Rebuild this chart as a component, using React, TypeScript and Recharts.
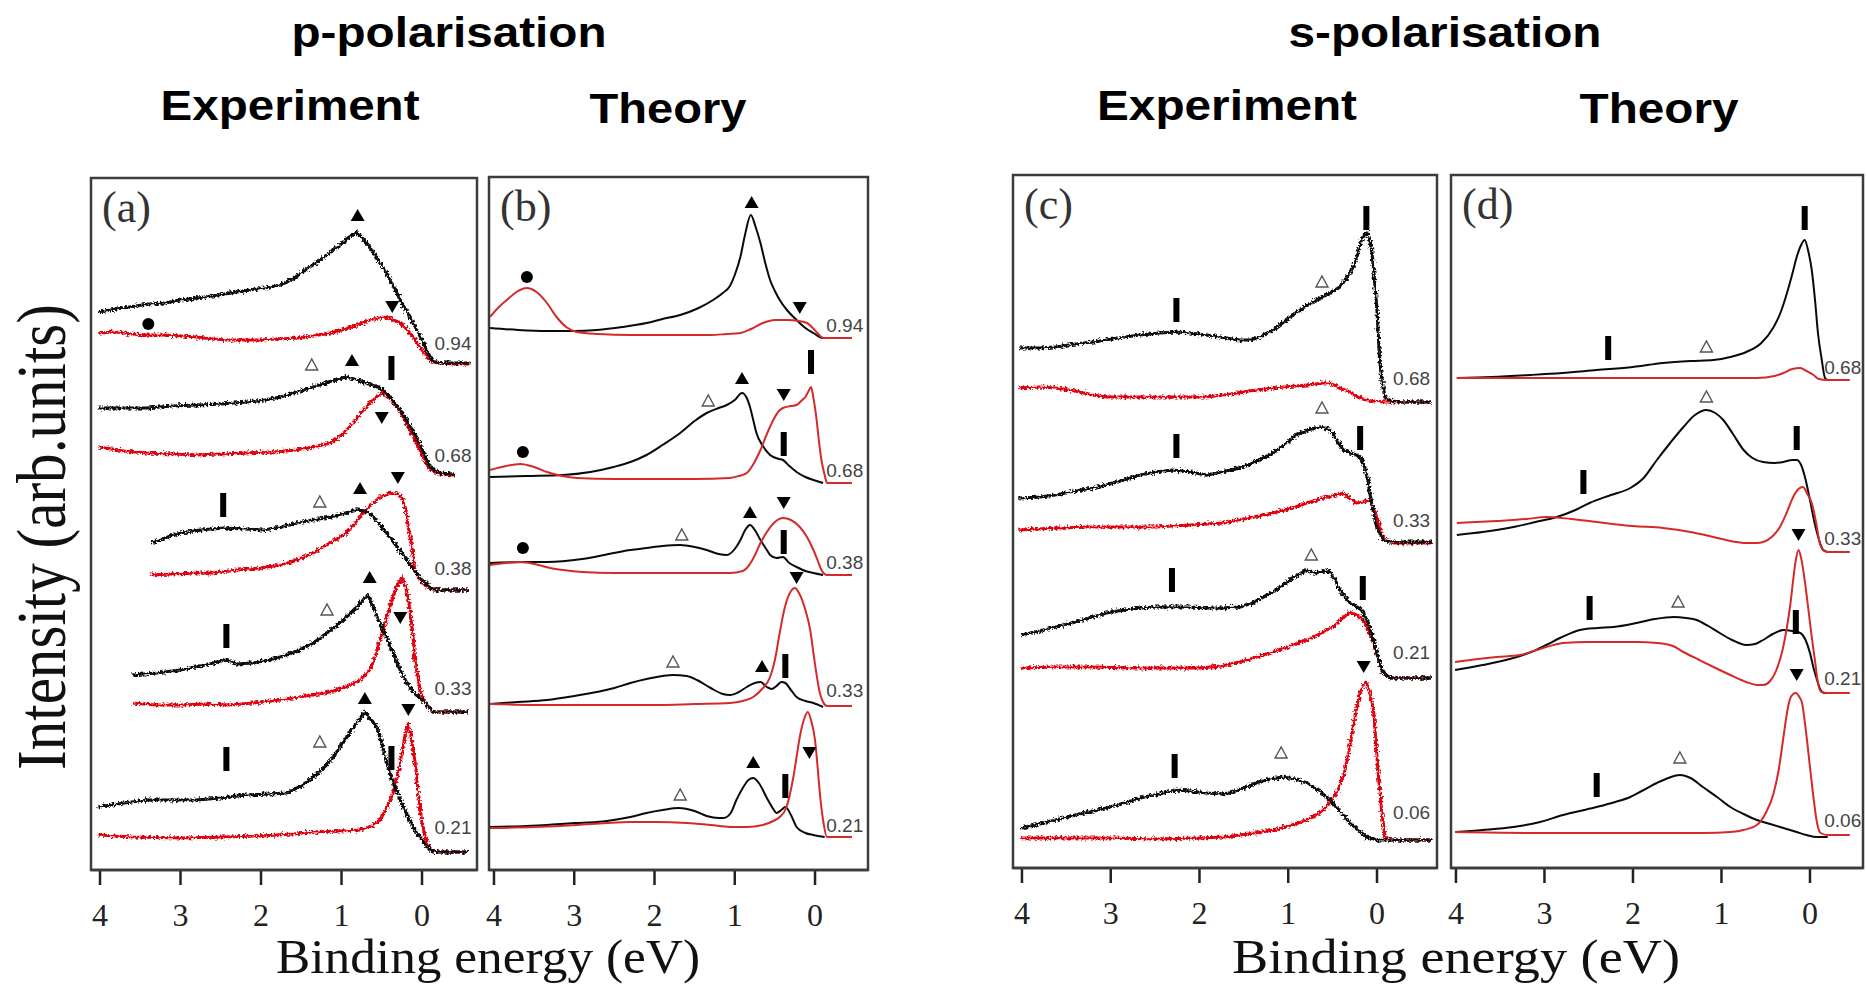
import React from 'react';
import { ComposedChart, Line, Scatter, XAxis, YAxis } from 'recharts';

type Pt = [number, number];

// Binding energy (eV), stacked intensity (arb. units, vertical offsets included)

// ---------- (a) p-polarisation, experiment ----------
const aBlack094: Pt[] = [[4.02,558],[3.8,561],[3.63,563],[3.4,566],[3.2,567],[3.0,570],[2.8,572],[2.6,574],[2.38,577],[2.15,580],[1.95,582],[1.76,585],[1.6,591],[1.45,600],[1.3,608],[1.15,617],[1.02,625],[0.92,632],[0.81,638],[0.73,631],[0.65,623],[0.55,611],[0.44,597],[0.35,583],[0.27,570],[0.18,557],[0.11,547],[0.0,530],[-0.1,513],[-0.15,508],[-0.3,507],[-0.6,507]];
const aRed094: Pt[] = [[4.02,537],[3.8,538],[3.6,536],[3.42,535],[3.2,535],[3.0,534],[2.8,533],[2.6,531],[2.4,530],[2.18,530],[2.0,530],[1.8,531],[1.56,532],[1.35,534],[1.14,537],[0.95,541],[0.8,545],[0.65,550],[0.48,553],[0.38,551],[0.27,547],[0.18,540],[0.11,533],[0.0,520],[-0.1,510],[-0.2,507],[-0.4,506],[-0.6,506]];
const aBlack068: Pt[] = [[4.02,462],[3.7,462],[3.42,462],[3.1,464],[2.8,465],[2.5,466],[2.18,468],[1.95,470],[1.76,473],[1.55,478],[1.35,483],[1.15,488],[0.94,493],[0.8,490],[0.69,487],[0.58,484],[0.48,480],[0.38,471],[0.27,460],[0.17,447],[0.07,433],[-0.02,417],[-0.1,403],[-0.22,397],[-0.41,396]];
const aRed068: Pt[] = [[4.02,423],[3.7,419],[3.42,417],[3.1,416],[2.8,415],[2.5,416],[2.18,417],[1.85,418],[1.56,420],[1.35,423],[1.14,427],[1.0,435],[0.85,447],[0.75,458],[0.65,467],[0.55,474],[0.48,477],[0.4,472],[0.3,462],[0.2,448],[0.07,427],[-0.02,412],[-0.1,400],[-0.2,396],[-0.41,395]];
const aBlack038: Pt[] = [[3.36,327],[3.2,332],[3.0,337],[2.75,340],[2.47,342],[2.2,341],[1.97,340],[1.75,343],[1.56,347],[1.35,350],[1.14,353],[0.95,357],[0.81,360],[0.72,359],[0.65,357],[0.52,345],[0.4,333],[0.3,322],[0.19,310],[0.1,300],[0.0,290],[-0.14,280],[-0.3,280],[-0.57,280]];
const aRed038: Pt[] = [[3.38,295],[3.1,296],[2.8,297],[2.6,297],[2.3,300],[2.0,302],[1.76,305],[1.55,310],[1.35,317],[1.14,327],[0.94,337],[0.83,347],[0.73,357],[0.62,366],[0.52,373],[0.4,377],[0.3,376],[0.25,373],[0.2,360],[0.17,343],[0.12,320],[0.09,300],[0.02,290],[-0.06,283],[-0.2,280],[-0.57,280]];
const aBlack033: Pt[] = [[3.6,195],[3.3,197],[3.0,200],[2.7,205],[2.43,210],[2.3,206],[2.1,207],[1.9,210],[1.76,213],[1.55,219],[1.35,227],[1.2,236],[1.02,247],[0.9,256],[0.81,263],[0.72,271],[0.67,275],[0.6,262],[0.52,247],[0.44,232],[0.36,217],[0.27,200],[0.19,187],[0.1,177],[0.0,170],[-0.14,158],[-0.3,158],[-0.57,158]];
const aRed033: Pt[] = [[3.6,167],[3.3,165],[3.0,165],[2.7,166],[2.38,165],[2.1,167],[1.76,170],[1.45,174],[1.14,178],[0.95,183],[0.77,190],[0.65,200],[0.58,214],[0.52,230],[0.46,246],[0.4,263],[0.32,283],[0.25,293],[0.2,283],[0.15,260],[0.11,233],[0.09,210],[0.04,188],[0.0,173],[-0.07,163],[-0.14,158],[-0.3,158],[-0.57,158]];
const aBlack021: Pt[] = [[4.02,63],[3.7,67],[3.42,70],[3.1,70],[2.8,70],[2.5,72],[2.18,75],[1.9,76],[1.68,77],[1.5,84],[1.35,93],[1.2,104],[1.1,113],[1.0,125],[0.9,137],[0.8,148],[0.71,158],[0.63,150],[0.56,143],[0.5,127],[0.44,107],[0.36,88],[0.27,70],[0.19,56],[0.11,43],[0.0,30],[-0.1,20],[-0.2,18],[-0.57,18]];
const aRed021: Pt[] = [[4.02,35],[3.6,33],[3.0,32],[2.5,33],[2.0,34],[1.6,36],[1.35,38],[1.0,39],[0.77,40],[0.62,44],[0.52,50],[0.44,62],[0.36,77],[0.3,95],[0.25,117],[0.21,135],[0.17,147],[0.13,130],[0.09,110],[0.05,80],[0.0,47],[-0.05,30],[-0.1,20],[-0.2,18],[-0.57,18]];
const aUp: Pt[] = [[0.8,655],[0.87,510],[0.77,382],[0.65,293],[0.71,172]];
const aDown: Pt[] = [[0.37,563],[0.5,452],[0.3,392],[0.27,252],[0.17,160]];
const aOpen: Pt[] = [[1.37,505],[1.27,368],[1.18,260],[1.27,128]];
const aBar: Pt[] = [[0.38,502],[2.47,365],[2.43,234],[2.43,111],[0.38,112]];
const aDot: Pt[] = [[3.4,546]];
const aLabels = ['0.94', '0.68', '0.38', '0.33', '0.21'];
const aLabelLevels = [527, 415, 302, 182, 43];

// ---------- (b) p-polarisation, theory ----------
const bBlack094: Pt[] = [[4.05,542],[3.7,540],[3.34,539],[3.0,539],[2.72,540],[2.4,543],[2.1,547],[1.9,551],[1.68,555],[1.45,562],[1.27,570],[1.15,577],[1.06,584],[1.0,595],[0.93,613],[0.87,636],[0.8,655],[0.74,643],[0.68,627],[0.62,607],[0.56,590],[0.5,579],[0.44,570],[0.35,560],[0.23,550],[0.12,542],[0.02,537],[-0.1,532],[-0.2,532]];
const bRed094: Pt[] = [[4.05,553],[3.95,562],[3.84,570],[3.72,578],[3.59,582],[3.47,578],[3.34,567],[3.22,553],[3.1,543],[2.97,538],[2.7,536],[2.3,535],[2.0,535],[1.68,535],[1.3,535],[1.1,536],[0.93,537],[0.8,541],[0.65,547],[0.5,550],[0.35,550],[0.2,549],[0.1,547],[0.04,543],[-0.03,537],[-0.1,532],[-0.2,532],[-0.46,532]];
const bBlack068: Pt[] = [[4.05,393],[3.6,394],[3.14,395],[2.8,398],[2.51,403],[2.3,408],[2.1,415],[1.9,425],[1.68,437],[1.5,449],[1.35,457],[1.2,462],[1.1,465],[1.0,470],[0.91,477],[0.85,472],[0.81,463],[0.77,450],[0.73,437],[0.65,424],[0.56,415],[0.45,411],[0.4,410],[0.32,404],[0.23,398],[0.12,393],[0.02,390],[-0.1,387]];
const bRed068: Pt[] = [[4.05,400],[3.85,404],[3.67,406],[3.5,403],[3.34,398],[3.15,394],[2.97,392],[2.5,391],[2.1,391],[1.5,391],[1.06,392],[0.95,394],[0.85,397],[0.76,407],[0.68,420],[0.6,436],[0.52,450],[0.45,459],[0.4,462],[0.3,464],[0.23,465],[0.16,470],[0.12,473],[0.08,479],[0.05,483],[0.02,472],[-0.02,450],[-0.05,428],[-0.08,410],[-0.12,395],[-0.15,387],[-0.46,387]];
const bBlack038: Pt[] = [[4.05,307],[3.6,308],[3.34,308],[2.9,311],[2.51,317],[2.3,320],[2.1,322],[1.9,324],[1.68,325],[1.5,323],[1.35,320],[1.2,316],[1.1,315],[1.0,321],[0.93,330],[0.87,340],[0.81,345],[0.75,340],[0.68,330],[0.6,320],[0.56,315],[0.48,312],[0.4,313],[0.32,307],[0.23,303],[0.12,299],[0.02,297],[-0.1,295]];
const bRed038: Pt[] = [[4.05,305],[3.85,307],[3.67,308],[3.5,306],[3.3,302],[3.14,300],[2.9,298],[2.5,297],[2.0,297],[1.5,297],[1.06,297],[0.9,299],[0.85,302],[0.76,313],[0.68,327],[0.6,338],[0.5,348],[0.4,352],[0.3,350],[0.19,343],[0.1,333],[0.02,320],[-0.04,308],[-0.08,300],[-0.15,295],[-0.46,295]];
const bBlack033: Pt[] = [[4.05,166],[3.7,168],[3.34,170],[3.0,174],[2.72,178],[2.5,182],[2.3,187],[2.1,191],[1.9,194],[1.77,195],[1.6,194],[1.47,190],[1.3,182],[1.15,176],[1.06,175],[0.95,178],[0.85,183],[0.75,187],[0.68,188],[0.6,183],[0.54,181],[0.48,184],[0.42,188],[0.37,187],[0.3,180],[0.23,173],[0.12,169],[0.02,167],[-0.1,163]];
const bRed033: Pt[] = [[4.05,166],[3.5,165],[3.0,165],[2.5,165],[2.0,165],[1.5,166],[1.06,167],[0.9,169],[0.77,173],[0.66,181],[0.56,193],[0.5,210],[0.44,237],[0.39,258],[0.35,270],[0.3,279],[0.25,282],[0.2,277],[0.12,260],[0.06,240],[0.02,217],[-0.02,195],[-0.06,177],[-0.1,168],[-0.15,164],[-0.46,164]];
const bBlack021: Pt[] = [[4.05,43],[3.6,44],[3.34,45],[3.0,47],[2.72,48],[2.51,50],[2.3,53],[2.1,57],[1.9,60],[1.7,62],[1.5,59],[1.35,54],[1.2,52],[1.14,52],[1.05,57],[0.98,70],[0.9,82],[0.83,90],[0.77,92],[0.7,87],[0.6,72],[0.52,61],[0.48,57],[0.42,60],[0.37,63],[0.3,55],[0.23,43],[0.12,37],[0.02,35],[-0.12,33]];
const bRed021: Pt[] = [[4.05,42],[3.5,43],[2.97,45],[2.6,47],[2.3,48],[2.0,48],[1.6,47],[1.3,45],[1.06,43],[0.85,43],[0.65,45],[0.52,49],[0.44,53],[0.36,62],[0.27,93],[0.23,113],[0.19,133],[0.14,150],[0.09,158],[0.05,150],[0.0,130],[-0.03,105],[-0.06,77],[-0.1,50],[-0.15,33],[-0.46,33]];
const bUp: Pt[] = [[0.79,668],[0.91,492],[0.81,358],[0.66,204],[0.77,108]];
const bDown: Pt[] = [[0.19,562],[0.39,475],[0.39,367],[0.23,292],[0.07,117]];
const bOpen: Pt[] = [[1.33,469],[1.66,335],[1.77,208],[1.68,75]];
const bBar: Pt[] = [[0.05,508],[0.39,426],[0.39,328],[0.37,204],[0.37,84]];
const bDot: Pt[] = [[3.59,593],[3.64,418],[3.64,322]];
const bLabels = ['0.94', '0.68', '0.38', '0.33', '0.21'];
const bLabelLevels = [545, 400, 308, 180, 45];

// ---------- (c) s-polarisation, experiment ----------
const cBlack068: Pt[] = [[4.03,520],[3.8,520],[3.62,521],[3.4,524],[3.2,526],[3.05,528],[2.85,531],[2.67,533],[2.45,535],[2.26,536],[2.1,535],[1.92,533],[1.7,530],[1.55,528],[1.43,528],[1.3,532],[1.17,538],[1.05,546],[0.91,555],[0.8,562],[0.68,568],[0.55,574],[0.42,581],[0.34,590],[0.27,601],[0.22,613],[0.19,625],[0.15,632],[0.12,636],[0.09,630],[0.06,618],[0.03,590],[0.0,558],[-0.03,508],[-0.06,485],[-0.09,471],[-0.15,467],[-0.3,466],[-0.62,466]];
const cRed068: Pt[] = [[4.03,480],[3.8,481],[3.62,480],[3.4,477],[3.2,473],[3.05,471],[2.8,471],[2.49,471],[2.2,471],[1.92,471],[1.65,474],[1.36,478],[1.05,481],[0.79,483],[0.6,485],[0.53,485],[0.42,480],[0.3,476],[0.22,471],[0.16,469],[0.05,467],[-0.1,466],[-0.62,466]];
const cBlack033: Pt[] = [[4.03,370],[3.8,371],[3.62,373],[3.4,377],[3.2,380],[3.05,383],[2.85,388],[2.67,393],[2.5,396],[2.3,398],[2.1,396],[1.92,393],[1.75,396],[1.55,400],[1.35,407],[1.17,415],[1.05,423],[0.91,433],[0.78,438],[0.64,441],[0.55,439],[0.5,435],[0.44,426],[0.38,418],[0.3,415],[0.23,413],[0.17,409],[0.14,401],[0.1,387],[0.08,375],[0.04,355],[0.0,340],[-0.07,328],[-0.15,326],[-0.62,326]];
const cRed033: Pt[] = [[4.03,338],[3.6,340],[3.24,341],[2.9,341],[2.49,341],[2.1,343],[1.73,345],[1.45,350],[1.17,355],[0.95,360],[0.79,365],[0.6,370],[0.45,373],[0.38,375],[0.3,369],[0.23,365],[0.15,366],[0.08,368],[0.04,360],[-0.01,348],[-0.05,335],[-0.09,328],[-0.2,325],[-0.62,325]];
const cBlack021: Pt[] = [[4.01,233],[3.8,237],[3.62,241],[3.4,246],[3.2,251],[3.05,255],[2.85,258],[2.67,260],[2.5,261],[2.3,261],[2.1,261],[1.92,260],[1.75,260],[1.55,261],[1.4,265],[1.28,271],[1.15,277],[1.06,283],[0.95,290],[0.85,295],[0.79,298],[0.7,295],[0.6,297],[0.53,296],[0.47,288],[0.42,278],[0.35,270],[0.3,265],[0.23,261],[0.17,258],[0.1,245],[0.04,228],[-0.02,208],[-0.07,195],[-0.15,190],[-0.62,190]];
const cRed021: Pt[] = [[4.01,200],[3.6,201],[3.2,201],[2.8,200],[2.4,200],[2.0,200],[1.75,202],[1.55,206],[1.35,211],[1.17,216],[0.98,222],[0.79,228],[0.65,234],[0.5,241],[0.4,249],[0.3,256],[0.23,253],[0.16,248],[0.1,238],[0.04,225],[-0.02,208],[-0.07,195],[-0.15,190],[-0.62,190]];
const cBlack006: Pt[] = [[4.01,40],[3.8,44],[3.62,48],[3.4,53],[3.2,57],[3.05,60],[2.85,65],[2.67,70],[2.45,74],[2.26,78],[2.1,77],[1.92,75],[1.75,74],[1.66,75],[1.5,80],[1.36,85],[1.2,89],[1.06,91],[0.92,89],[0.79,85],[0.65,77],[0.53,68],[0.42,57],[0.3,45],[0.2,37],[0.12,31],[-0.01,28],[-0.62,28]];
const cRed006: Pt[] = [[4.01,30],[3.5,30],[3.0,30],[2.49,29],[2.0,30],[1.73,31],[1.45,34],[1.17,38],[0.95,43],[0.79,48],[0.65,55],[0.53,65],[0.45,76],[0.38,91],[0.32,115],[0.27,141],[0.23,160],[0.19,175],[0.15,184],[0.12,186],[0.08,175],[0.04,158],[0.01,125],[-0.01,98],[-0.05,60],[-0.09,31],[-0.15,28],[-0.62,28]];
const cUp: Pt[] = [];
const cDown: Pt[] = [[0.15,201]];
const cOpen: Pt[] = [[0.62,586],[0.62,460],[0.74,313],[1.08,115]];
const cBar: Pt[] = [[2.26,558],[0.12,650],[2.26,422],[0.19,430],[2.31,288],[0.16,280],[2.28,102]];
const cDot: Pt[] = [];
const cLabels = ['0.68', '0.33', '0.21', '0.06'];
const cLabelLevels = [490, 348, 216, 56];

// ---------- (d) s-polarisation, theory ----------
const dBlack068: Pt[] = [[3.99,490],[3.6,491],[3.16,493],[2.8,495],[2.41,498],[2.0,501],[1.66,505],[1.35,507],[1.09,508],[0.9,511],[0.72,516],[0.55,525],[0.41,541],[0.33,556],[0.26,575],[0.2,594],[0.15,611],[0.1,623],[0.06,628],[0.02,617],[-0.02,598],[-0.06,565],[-0.09,535],[-0.13,510],[-0.17,490],[-0.2,488]];
const dRed068: Pt[] = [[3.99,490],[3.0,490],[2.0,490],[1.0,490],[0.6,490],[0.4,492],[0.3,495],[0.2,499],[0.11,500],[0.04,497],[-0.04,493],[-0.1,489],[-0.2,488],[-0.45,488]];
const dBlack033: Pt[] = [[3.99,333],[3.7,336],[3.35,341],[3.1,346],[2.86,351],[2.65,358],[2.49,365],[2.25,373],[2.03,380],[1.88,390],[1.73,408],[1.58,425],[1.43,441],[1.3,453],[1.17,458],[1.07,455],[0.98,448],[0.87,434],[0.75,418],[0.65,410],[0.53,406],[0.4,405],[0.3,406],[0.2,408],[0.15,408],[0.1,403],[0.06,392],[0.0,368],[-0.04,350],[-0.08,335],[-0.15,318],[-0.2,316]];
const dRed033: Pt[] = [[3.99,345],[3.54,347],[3.2,349],[2.98,351],[2.7,349],[2.41,346],[2.0,342],[1.66,340],[1.35,336],[1.09,331],[0.9,327],[0.72,325],[0.6,325],[0.53,326],[0.42,332],[0.34,341],[0.26,356],[0.19,371],[0.13,379],[0.08,381],[0.03,374],[-0.02,365],[-0.07,345],[-0.11,325],[-0.16,317],[-0.2,316],[-0.45,316]];
const dBlack021: Pt[] = [[4.01,198],[3.7,203],[3.35,210],[3.15,216],[2.98,223],[2.8,231],[2.6,238],[2.4,240],[2.22,241],[1.96,245],[1.75,249],[1.54,251],[1.4,250],[1.28,248],[1.15,242],[1.02,235],[0.88,228],[0.72,223],[0.62,224],[0.53,228],[0.42,234],[0.3,238],[0.2,237],[0.11,235],[0.05,228],[0.0,215],[-0.04,200],[-0.08,188],[-0.12,178],[-0.16,175],[-0.2,175]];
const dRed021: Pt[] = [[4.01,206],[3.75,209],[3.54,211],[3.28,213],[3.05,219],[2.79,225],[2.5,226],[2.22,226],[1.96,226],[1.73,225],[1.55,222],[1.43,216],[1.25,208],[1.09,201],[0.9,193],[0.72,186],[0.6,183],[0.53,183],[0.45,187],[0.38,198],[0.31,218],[0.26,241],[0.22,265],[0.19,288],[0.16,308],[0.13,318],[0.1,310],[0.06,288],[0.02,260],[-0.02,231],[-0.06,205],[-0.09,185],[-0.13,176],[-0.2,175],[-0.45,175]];
const dBlack006: Pt[] = [[4.01,36],[3.7,38],[3.35,41],[3.05,46],[2.79,53],[2.6,57],[2.41,61],[2.2,66],[2.03,71],[1.88,78],[1.73,85],[1.6,90],[1.47,93],[1.35,90],[1.21,81],[1.05,71],[0.9,61],[0.75,54],[0.6,48],[0.45,44],[0.3,40],[0.15,36],[0.04,33],[-0.08,31],[-0.2,31]];
const dRed006: Pt[] = [[4.01,36],[3.0,35],[2.0,35],[1.2,35],[0.9,36],[0.75,38],[0.6,43],[0.5,55],[0.41,75],[0.35,100],[0.3,131],[0.26,155],[0.23,168],[0.19,174],[0.16,175],[0.12,171],[0.09,165],[0.05,140],[0.0,101],[-0.04,70],[-0.08,45],[-0.12,35],[-0.2,33],[-0.45,33]];
const dUp: Pt[] = [];
const dDown: Pt[] = [[0.13,333],[0.15,193]];
const dOpen: Pt[] = [[1.17,521],[1.17,471],[1.49,266],[1.47,110]];
const dBar: Pt[] = [[2.28,520],[0.06,650],[2.56,386],[0.15,430],[2.49,260],[0.16,246],[2.41,83]];
const dDot: Pt[] = [];
const dLabels = ['0.68', '0.33', '0.21', '0.06'];
const dLabelLevels = [501, 330, 190, 48];

const energyTicks = [0, 1, 2, 3, 4];

const BLACK = '#0a0a0a';
const RED_EXP = '#e3000f';
const RED_TH = '#d42a2a';

type Frame = { left: number; top: number; right: number; bottom: number };
type PanelDef = {
  tag: string;
  frame: Frame;
  domain: [number, number];
  measured: boolean;
  pairs: [Pt[], Pt[]][]; // [black, red]
  up: Pt[]; down: Pt[]; open: Pt[]; bar: Pt[]; dot: Pt[];
  labels: string[]; labelLevels: number[]; labelEnergy: number;
};

const panels: PanelDef[] = [
  {
    tag: '(a)', frame: { left: 91, top: 178, right: 477, bottom: 870 }, domain: [-0.683, 4.112], measured: true,
    pairs: [[aBlack094, aRed094], [aBlack068, aRed068], [aBlack038, aRed038], [aBlack033, aRed033], [aBlack021, aRed021]],
    up: aUp, down: aDown, open: aOpen, bar: aBar, dot: aDot, labels: aLabels, labelLevels: aLabelLevels, labelEnergy: -0.385,
  },
  {
    tag: '(b)', frame: { left: 489, top: 177, right: 868, bottom: 870 }, domain: [-0.66, 4.062], measured: false,
    pairs: [[bBlack094, bRed094], [bBlack068, bRed068], [bBlack038, bRed038], [bBlack033, bRed033], [bBlack021, bRed021]],
    up: bUp, down: bDown, open: bOpen, bar: bBar, dot: bDot, labels: bLabels, labelLevels: bLabelLevels, labelEnergy: -0.37,
  },
  {
    tag: '(c)', frame: { left: 1013, top: 175, right: 1437, bottom: 868 }, domain: [-0.676, 4.101], measured: true,
    pairs: [[cBlack068, cRed068], [cBlack033, cRed033], [cBlack021, cRed021], [cBlack006, cRed006]],
    up: cUp, down: cDown, open: cOpen, bar: cBar, dot: cDot, labels: cLabels, labelLevels: cLabelLevels, labelEnergy: -0.39,
  },
  {
    tag: '(d)', frame: { left: 1451, top: 175, right: 1863, bottom: 868 }, domain: [-0.599, 4.056], measured: false,
    pairs: [[dBlack068, dRed068], [dBlack033, dRed033], [dBlack021, dRed021], [dBlack006, dRed006]],
    up: dUp, down: dDown, open: dOpen, bar: dBar, dot: dDot, labels: dLabels, labelLevels: dLabelLevels, labelEnergy: -0.37,
  },
];

const toXY = (pts: Pt[]) => pts.map(([x, y]) => ({ x, y }));

const markerRows = (p: PanelDef) => [
  ...p.up.map(([x, y]) => ({ x, y, kind: 'up' })),
  ...p.down.map(([x, y]) => ({ x, y, kind: 'down' })),
  ...p.open.map(([x, y]) => ({ x, y, kind: 'open' })),
  ...p.bar.map(([x, y]) => ({ x, y, kind: 'bar' })),
  ...p.dot.map(([x, y]) => ({ x, y, kind: 'dot' })),
];

const labelRows = (p: PanelDef) => p.labels.map((label, i) => ({ x: p.labelEnergy, y: p.labelLevels[i], label }));

const SANS = "'Liberation Sans', Arial, sans-serif";
const SERIF = "'Liberation Serif', 'Times New Roman', serif";

function MarkerShape(props: any) {
  const { cx, cy, payload } = props;
  if (cx == null || cy == null) return <g />;
  switch (payload.kind) {
    case 'up':
      return <path d={`M${cx - 7},${cy + 6}L${cx + 7},${cy + 6}L${cx},${cy - 6}Z`} fill="#000" />;
    case 'down':
      return <path d={`M${cx - 7},${cy - 6}L${cx + 7},${cy - 6}L${cx},${cy + 6}Z`} fill="#000" />;
    case 'open':
      return <path d={`M${cx - 6},${cy + 5}L${cx + 6},${cy + 5}L${cx},${cy - 6}Z`} fill="none" stroke="#555" strokeWidth={1.4} />;
    case 'bar':
      return <rect x={cx - 3} y={cy - 12} width={6} height={24} fill="#000" />;
    case 'dot':
      return <circle cx={cx} cy={cy} r={6} fill="#000" />;
    default:
      return <g />;
  }
}

function LevelLabel(props: any) {
  const { cx, cy, payload } = props;
  if (cx == null || cy == null) return <g />;
  return (
    <text x={cx} y={cy} textAnchor="middle" dominantBaseline="central" fontSize={19} fill="#444"
      fontFamily={SANS}>{payload.label}</text>
  );
}

// Energy tick labels: serif digits, baseline a fixed distance below the tick end
function EnergyTick(props: any) {
  const { x, y, payload } = props;
  return (
    <text x={x} y={y} dy={22} textAnchor="middle" fontSize={32} fill="#222" fontFamily={SERIF}>
      {payload.value}
    </text>
  );
}

const AXIS_H = 66;
const PAD = 26; // room beside the plot so the outer tick labels are not clipped

function Panel({ p }: { p: PanelDef }) {
  const w = p.frame.right - p.frame.left;
  const h = p.frame.bottom - p.frame.top;
  const traces: { data: { x: number; y: number }[]; color: string; width: number; key: string }[] = [];
  p.pairs.forEach(([black, red], i) => {
    const blackTrace = { data: toXY(black), color: BLACK, width: p.measured ? 3.2 : 2.0, key: `k${i}` };
    const redTrace = { data: toXY(red), color: p.measured ? RED_EXP : RED_TH, width: p.measured ? 3.0 : 2.0, key: `r${i}` };
    if (p.measured) traces.push(redTrace, blackTrace);
    else traces.push(blackTrace, redTrace);
  });
  return (
    <div style={{ position: 'absolute', left: p.frame.left - PAD, top: p.frame.top }}>
      <ComposedChart width={w + 2 * PAD} height={h + AXIS_H} margin={{ top: 0, right: PAD, bottom: 0, left: PAD }}>
        <XAxis type="number" dataKey="x" domain={p.domain} reversed allowDataOverflow ticks={energyTicks}
          interval={0} height={AXIS_H} tickSize={15} tickMargin={19}
          axisLine={{ stroke: '#222', strokeWidth: 2.5 }} tickLine={{ stroke: '#222', strokeWidth: 2.5 }}
          tick={EnergyTick} />
        <YAxis type="number" dataKey="y" domain={[0, h]} allowDataOverflow hide />
        {traces.map((t) => (
          <Line key={t.key} data={t.data} dataKey="y" type={p.measured ? 'linear' : 'monotone'} stroke={t.color}
            strokeWidth={t.width} dot={false} activeDot={false} isAnimationActive={false}
            className={p.measured ? 'measured-trace' : 'model-trace'} />
        ))}
        <Scatter data={markerRows(p)} dataKey="y" shape={MarkerShape} isAnimationActive={false} />
        <Scatter data={labelRows(p)} dataKey="y" shape={LevelLabel} isAnimationActive={false} />
      </ComposedChart>
    </div>
  );
}

export default function App() {
  return (
    <div style={{ position: 'absolute', left: 0, top: 0, width: 1866, height: 984, overflow: 'hidden', background: '#fff' }}>
      <style>{`.measured-trace { filter: url(#rough); }`}</style>
      <svg width={0} height={0} style={{ position: 'absolute' }}>
        <defs>
          <filter id="rough" filterUnits="userSpaceOnUse" x={-50} y={-50} width={2000} height={1200}>
            <feTurbulence type="fractalNoise" baseFrequency={0.45} numOctaves={2} seed={4} result="noise" />
            <feDisplacementMap in="SourceGraphic" in2="noise" scale={6} xChannelSelector="R" yChannelSelector="G" />
          </filter>
        </defs>
      </svg>
      {panels.map((p) => <Panel key={p.tag} p={p} />)}
      <svg width={1866} height={984} style={{ position: 'absolute', left: 0, top: 0, pointerEvents: 'none' }}>
        {panels.map((p) => (
          <rect key={`f${p.tag}`} x={p.frame.left} y={p.frame.top} width={p.frame.right - p.frame.left}
            height={p.frame.bottom - p.frame.top} fill="none" stroke="#3c3c3c" strokeWidth={2.5} />
        ))}
        {panels.map((p) => (
          <text key={`t${p.tag}`} x={p.frame.left + 11} y={p.frame.top + 44} fontSize={44} fontFamily={SERIF} fill="#333">{p.tag}</text>
        ))}
        <text x={449} y={47} textAnchor="middle" fontSize={42} fontWeight="bold" fontFamily={SANS} textLength={315} lengthAdjust="spacingAndGlyphs">p-polarisation</text>
        <text x={1445} y={47} textAnchor="middle" fontSize={42} fontWeight="bold" fontFamily={SANS} textLength={313} lengthAdjust="spacingAndGlyphs">s-polarisation</text>
        <text x={290} y={120} textAnchor="middle" fontSize={42} fontWeight="bold" fontFamily={SANS} textLength={259} lengthAdjust="spacingAndGlyphs">Experiment</text>
        <text x={668} y={123} textAnchor="middle" fontSize={42} fontWeight="bold" fontFamily={SANS} textLength={157} lengthAdjust="spacingAndGlyphs">Theory</text>
        <text x={1227} y={120} textAnchor="middle" fontSize={42} fontWeight="bold" fontFamily={SANS} textLength={260} lengthAdjust="spacingAndGlyphs">Experiment</text>
        <text x={1659} y={123} textAnchor="middle" fontSize={42} fontWeight="bold" fontFamily={SANS} textLength={159} lengthAdjust="spacingAndGlyphs">Theory</text>
        <text x={488} y={973} textAnchor="middle" fontSize={48} fontFamily={SERIF} fill="#111" textLength={424} lengthAdjust="spacingAndGlyphs">Binding energy (eV)</text>
        <text x={1456} y={973} textAnchor="middle" fontSize={48} fontFamily={SERIF} fill="#111" textLength={448} lengthAdjust="spacingAndGlyphs">Binding energy (eV)</text>
        <text transform="translate(65,537) rotate(-90)" textAnchor="middle" fontSize={70} fontFamily={SERIF} fill="#111" textLength={466} lengthAdjust="spacingAndGlyphs">Intensity (arb.units)</text>
      </svg>
    </div>
  );
}
